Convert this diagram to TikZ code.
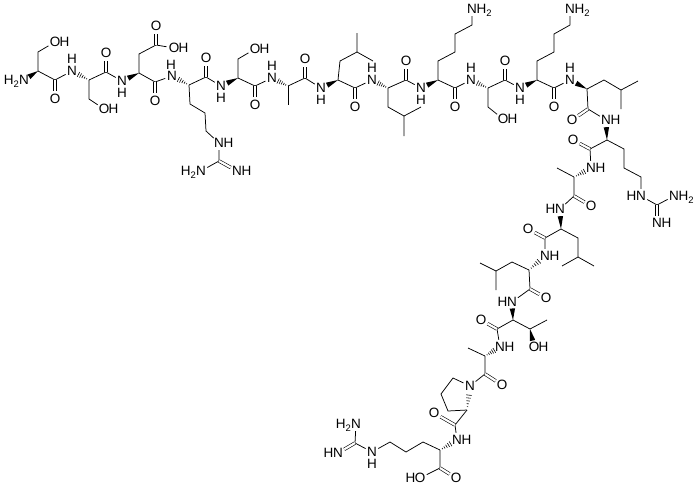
\documentclass[tikz,border=0pt]{standalone}
\usepackage{fontspec}
\newfontfamily\af{Liberation Sans}
\usetikzlibrary{calc}
\tikzset{
 bond/.style={line width=0.75pt},
 dbl/.style={double, double distance=2.2pt, line width=0.6pt},
 atm/.style={circle, inner sep=0.2pt, font=\af\fontsize{13.5}{13.5}\selectfont},
 hl/.style={inner sep=0pt, font=\af\fontsize{13.5}{13.5}\selectfont}
}
\newcommand\A[3]{\node[atm] (#1) at (#2) {#3};}
\newcommand\HU[1]{\node[hl] at ($(#1)+(0,-12)$) {H};}
\newcommand\HD[1]{\node[hl] at ($(#1)+(0,12)$) {H};}
\newcommand\HR[2]{\node[hl,anchor=base west] at ($(#1)+(4.5,4.9)$) {#2};}
\newcommand\HL[2]{\node[hl,anchor=base east] at ($(#1)+(-4.5,4.9)$) {#2};}
\newcommand\wdg[2]{\fill ($(#1)!0.64!(#2)!2.7pt!90:(#2)$) -- (#1) -- ($(#1)!0.64!(#2)!2.7pt!-90:(#2)$) -- cycle;}
\newcommand\hsh[2]{\foreach \tt in {0.14,0.26,0.38,0.5,0.62}{\pgfmathsetmacro\ww{\tt*4.4}\draw[line width=0.6pt] ($(#1)!\tt!(#2)!\ww pt!90:(#2)$) -- ($(#1)!\tt!(#2)!\ww pt!-90:(#2)$);}}
\begin{document}
\begin{tikzpicture}[x=1pt,y=-1pt]
\fill[white] (0,0) rectangle (698,488);
\useasboundingbox (0,0) rectangle (698,488);
% backbone
\A{n1}{24,80}{N}\HL{n1}{H\textsubscript{2}}
\coordinate (a1) at (38,71); \coordinate (c1) at (55,80); \A{o1}{55,99}{O}
\A{n2}{72,71}{N}\HU{n2}
\coordinate (a2) at (89,80); \coordinate (c2) at (106,72); \A{o2}{106,53}{O}
\A{n3}{122,81}{N}\HD{n3}
\coordinate (a3) at (139,73); \coordinate (c3) at (155,82); \A{o3}{155,101}{O}
\A{n4}{172,76}{N}\node[hl] at (171,64.5) {H};
\coordinate (a4) at (189,85); \coordinate (c4) at (206,77); \A{o4}{206,58}{O}
\A{n5}{221,86}{N}\HD{n5}
\coordinate (a5) at (238,78); \coordinate (c5) at (255,86); \A{o5}{255,105}{O}
\A{n6}{272,78}{N}\HU{n6}
\coordinate (a6) at (288,86); \coordinate (c6) at (305,78); \A{o6}{305,59}{O}
\A{n7}{321,88}{N}\HD{n7}
\coordinate (a7) at (338,80); \coordinate (c7) at (355,88); \A{o7}{355,107}{O}
\A{n8}{372,80}{N}\HU{n8}
\coordinate (a8) at (388,88); \coordinate (c8) at (406,80); \A{o8}{406,61}{O}
\A{n9}{421,88}{N}\HD{n9}
\coordinate (a9) at (438,80); \coordinate (c9) at (455,88); \A{o9}{455,107}{O}
\A{n10}{471,80}{N}\HU{n10}
\coordinate (a10) at (488,88); \coordinate (c10) at (505,80); \A{o10}{505,61}{O}
\A{n11}{520,88}{N}\HD{n11}
\coordinate (a11) at (537,80); \coordinate (c11) at (554,88); \A{o11}{554,107}{O}
\A{n12}{570,80}{N}\HU{n12}
\coordinate (a12) at (587,89); \coordinate (c12) at (588,109); \A{o12}{572,120}{O}
\A{n13}{606,120}{N}\HR{n13}{H}
\coordinate (a13) at (607,140); \coordinate (c13) at (590,149); \A{o13}{573,140}{O}
\A{n14}{591,168}{N}\HR{n14}{H}
\coordinate (a14) at (574,177); \coordinate (c14) at (574,196); \A{o14}{591,206}{O}
\A{n15}{560,209}{N}\HL{n15}{H}
\coordinate (a15) at (561,229); \coordinate (c15) at (545,238); \A{o15}{528,229}{O}
\A{n16}{545,256}{N}\HR{n16}{H}
\coordinate (a16) at (529,270); \coordinate (c16) at (530,289); \A{o16}{546,298}{O}
\A{n17}{512,302}{N}\HL{n17}{H}
\coordinate (a17) at (513,320); \coordinate (c17) at (497,329); \A{o17}{481,320}{O}
\A{n18}{500,347}{N}\HR{n18}{H}
\coordinate (a18) at (485,356); \coordinate (c18) at (485,374); \A{o18}{502,385}{O}
\A{n19}{470,386}{N}
\coordinate (a19) at (467,410); \coordinate (c19) at (455,425); \A{o19}{434,413}{O}
\A{n20}{457,440}{N}\HR{n20}{H}
\coordinate (a20) at (440,450); \coordinate (c20) at (440,468); \A{o20}{456,478}{O}
\A{oh20}{420,478}{O}\HL{oh20}{H}
\foreach \i [evaluate=\i as \j using int(\i+1)] in {1,...,19} {
 \draw[bond] (a\i) -- (c\i) (c\i) -- (n\j);
 \draw[dbl] (c\i) -- (o\i);}
\draw[bond] (a20) -- (c20) (c20) -- (oh20);
\draw[dbl] (c20) -- (o20);
% stereo
\wdg{a1}{n1}\wdg{a3}{n3}\wdg{a5}{n5}\wdg{a7}{n7}\wdg{a9}{n9}\wdg{a11}{n11}
\wdg{a12}{n12}\wdg{a13}{n13}\wdg{a15}{n15}\wdg{a17}{n17}
\hsh{a2}{n2}\hsh{a4}{n4}\hsh{a6}{n6}\hsh{a8}{n8}\hsh{a10}{n10}
\hsh{a14}{n14}\hsh{a16}{n16}\hsh{a18}{n18}\hsh{a19}{n19}\hsh{a20}{n20}
% Ser1
\coordinate (s1b) at (38,52); \A{s1o}{55,42}{O}\HR{s1o}{H}
\draw[bond] (a1) -- (s1b) -- (s1o);
% Ser2
\coordinate (s2b) at (89,99); \A{s2o}{104,109}{O}\HR{s2o}{H}
\draw[bond] (a2) -- (s2b) -- (s2o);
% Asp3
\coordinate (d3b) at (139,54); \coordinate (d3g) at (156,45);
\A{d3o}{156,26}{O}\A{d3h}{174,48}{O}\HR{d3h}{H}
\draw[bond] (a3) -- (d3b) -- (d3g) -- (d3h); \draw[dbl] (d3g) -- (d3o);
% Arg4
\coordinate (r4b) at (190,104); \coordinate (r4g) at (205,113); \coordinate (r4d) at (206,131);
\A{r4n}{219,143}{N}\HR{r4n}{H}
\coordinate (r4c) at (219,161);
\A{r4a}{201,171}{N}\HL{r4a}{H\textsubscript{2}}
\A{r4i}{237,171}{N}\HR{r4i}{H}
\draw[bond] (a4) -- (r4b) -- (r4g) -- (r4d) -- (r4n) (r4n) -- (r4c) (r4c) -- (r4a);
\draw[dbl] (r4c) -- (r4i);
% Ser5
\coordinate (s5b) at (238,59); \A{s5o}{255,49}{O}\HR{s5o}{H}
\draw[bond] (a5) -- (s5b) -- (s5o);
% Ala6
\coordinate (m6) at (288,105); \draw[bond] (a6) -- (m6);
% Leu7
\coordinate (l7b) at (340,61); \coordinate (l7g) at (357,52);
\coordinate (l7d1) at (357,33); \coordinate (l7d2) at (373,61);
\draw[bond] (a7) -- (l7b) -- (l7g) -- (l7d1) (l7g) -- (l7d2);
% Leu8
\coordinate (l8b) at (388,107); \coordinate (l8g) at (404,116);
\coordinate (l8d1) at (421,107); \coordinate (l8d2) at (404,136);
\draw[bond] (a8) -- (l8b) -- (l8g) -- (l8d1) (l8g) -- (l8d2);
% Lys9
\coordinate (k9b) at (438,61); \coordinate (k9g) at (455,52); \coordinate (k9d) at (455,34); \coordinate (k9e) at (472,25);
\A{k9n}{472,9}{N}\HR{k9n}{H\textsubscript{2}}
\draw[bond] (a9) -- (k9b) -- (k9g) -- (k9d) -- (k9e) -- (k9n);
% Ser10
\coordinate (s10b) at (488,107); \A{s10o}{503,119}{O}\HR{s10o}{H}
\draw[bond] (a10) -- (s10b) -- (s10o);
% Lys11
\coordinate (k11b) at (537,61); \coordinate (k11g) at (554,52); \coordinate (k11d) at (554,34); \coordinate (k11e) at (570,25);
\A{k11n}{570,9}{N}\HR{k11n}{H\textsubscript{2}}
\draw[bond] (a11) -- (k11b) -- (k11g) -- (k11d) -- (k11e) -- (k11n);
% Leu12
\coordinate (l12b) at (604,80); \coordinate (l12g) at (621,90);
\coordinate (l12d1) at (638,81); \coordinate (l12d2) at (621,109);
\draw[bond] (a12) -- (l12b) -- (l12g) -- (l12d1) (l12g) -- (l12d2);
% Arg13
\coordinate (r13b) at (624,149); \coordinate (r13g) at (624,168); \coordinate (r13d) at (641,177);
\A{r13n}{641,196}{N}\HL{r13n}{H}
\coordinate (r13c) at (657,205);
\A{r13a}{674,196}{N}\HR{r13a}{H\textsubscript{2}}
\A{r13i}{657,223}{N}\HR{r13i}{H}
\draw[bond] (a13) -- (r13b) -- (r13g) -- (r13d) -- (r13n) (r13n) -- (r13c) (r13c) -- (r13a);
\draw[dbl] (r13c) -- (r13i);
% Ala14
\coordinate (m14) at (557,168); \draw[bond] (a14) -- (m14);
% Leu15
\coordinate (l15b) at (578,238); \coordinate (l15g) at (578,257);
\coordinate (l15d1) at (594,266); \coordinate (l15d2) at (562,266);
\draw[bond] (a15) -- (l15b) -- (l15g) -- (l15d1) (l15g) -- (l15d2);
% Leu16
\coordinate (l16b) at (512,262); \coordinate (l16g) at (496,271);
\coordinate (l16d1) at (480,263); \coordinate (l16d2) at (496,290);
\draw[bond] (a16) -- (l16b) -- (l16g) -- (l16d1) (l16g) -- (l16d2);
% Thr17
\coordinate (t17b) at (530,329); \coordinate (t17m) at (547,320);
\A{t17o}{534,347}{O}\HR{t17o}{H}
\draw[bond] (a17) -- (t17b) -- (t17m);
\wdg{t17b}{t17o}
% Ala18
\coordinate (m18) at (468,348); \draw[bond] (a18) -- (m18);
% Pro19
\coordinate (p19d) at (453,378); \coordinate (p19g) at (441,394); \coordinate (p19b) at (448,411);
\draw[bond] (n19) -- (p19d) -- (p19g) -- (p19b) -- (a19);
% Arg20
\coordinate (r20b) at (423,442); \coordinate (r20g) at (406,452); \coordinate (r20d) at (390,442);
\A{r20n}{372,452}{N}\HD{r20n}
\coordinate (r20c) at (355,443);
\A{r20a}{356,424}{N}\HL{r20a}{H\textsubscript{2}}
\A{r20i}{338,453}{N}\HL{r20i}{H}
\draw[bond] (a20) -- (r20b) -- (r20g) -- (r20d) -- (r20n) (r20n) -- (r20c) (r20c) -- (r20a);
\draw[dbl] (r20c) -- (r20i);
\end{tikzpicture}
\end{document}
